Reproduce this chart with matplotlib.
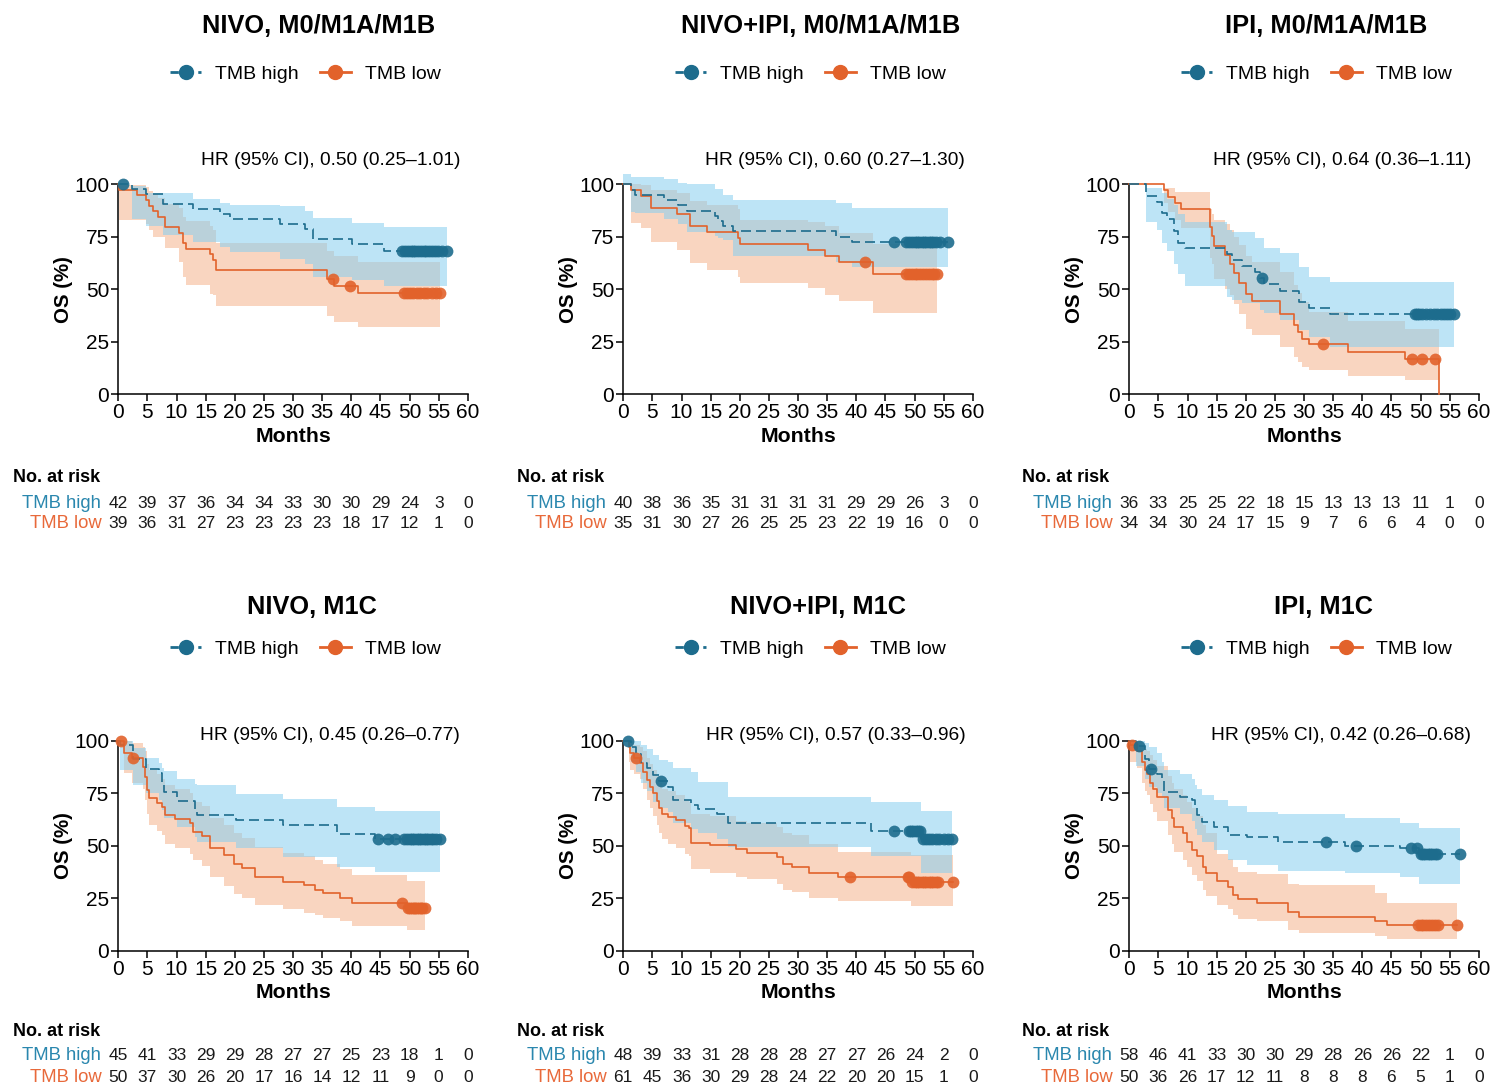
import numpy as np
import matplotlib
matplotlib.use("Agg")
import matplotlib.pyplot as plt
from matplotlib.lines import Line2D
from matplotlib.transforms import blended_transform_factory

plt.rcParams['font.family'] = ['Liberation Sans', 'DejaVu Sans']

# ---------------- data ----------------
titles = ["NIVO, M0/M1A/M1B", "NIVO+IPI, M0/M1A/M1B", "IPI, M0/M1A/M1B",
          "NIVO, M1C", "NIVO+IPI, M1C", "IPI, M1C"]
hr_text = ["HR (95% CI), 0.50 (0.25\u20131.01)", "HR (95% CI), 0.60 (0.27\u20131.30)",
           "HR (95% CI), 0.64 (0.36\u20131.11)", "HR (95% CI), 0.45 (0.26\u20130.77)",
           "HR (95% CI), 0.57 (0.33\u20130.96)", "HR (95% CI), 0.42 (0.26\u20130.68)"]
risk_months = [0, 5, 10, 15, 20, 25, 30, 35, 40, 45, 50, 55, 60]
risk_high = [[42, 39, 37, 36, 34, 34, 33, 30, 30, 29, 24, 3, 0],
             [40, 38, 36, 35, 31, 31, 31, 31, 29, 29, 26, 3, 0],
             [36, 33, 25, 25, 22, 18, 15, 13, 13, 13, 11, 1, 0],
             [45, 41, 33, 29, 29, 28, 27, 27, 25, 23, 18, 1, 0],
             [48, 39, 33, 31, 28, 28, 28, 27, 27, 26, 24, 2, 0],
             [58, 46, 41, 33, 30, 30, 29, 28, 26, 26, 22, 1, 0]]
risk_low = [[39, 36, 31, 27, 23, 23, 23, 23, 18, 17, 12, 1, 0],
            [35, 31, 30, 27, 26, 25, 25, 23, 22, 19, 16, 0, 0],
            [34, 34, 30, 24, 17, 15, 9, 7, 6, 6, 4, 0, 0],
            [50, 37, 30, 26, 20, 17, 16, 14, 12, 11, 9, 0, 0],
            [61, 45, 36, 30, 29, 28, 24, 22, 20, 20, 15, 1, 0],
            [50, 36, 26, 17, 12, 11, 8, 8, 8, 6, 5, 1, 0]]

# panel 1 - NIVO, M0/M1A/M1B
p1_high_t = [0, 2.4, 4.7, 7.7, 12.9, 17.5, 19.2, 27.8, 32.1, 33.4, 40.2, 45.6]
p1_high_s = [100, 97.6, 95.2, 90.5, 88.1, 85.7, 83.3, 81.0, 78.6, 73.8, 71.4, 68.3]
p1_high_up = [100, 99.4, 96, 96, 92.8, 90.9, 90.3, 89.7, 87.3, 83.8, 81.4, 79.8]
p1_high_lo = [100, 83.3, 80, 76, 72.5, 70, 67.6, 64.4, 62, 56, 54.4, 51.7]
p1_high_cens = [0.75, 48.7, 49.2, 49.7, 50.2, 50.6, 51.0, 51.5, 52.0, 52.4, 52.9, 53.3,
                53.8, 54.3, 54.8, 55.5, 56.4]
p1_low_t = [0, 0.2, 3.2, 4.7, 5.3, 6.0, 6.9, 8.1, 10.4, 11.1, 11.6, 15.8, 16.3, 16.8, 35.9, 37.0, 41.1]
p1_low_s = [100, 97.4, 94.9, 92.3, 89.7, 87.2, 84.6, 79.5, 76.9, 71.8, 69.2, 66.7, 64.1, 59.0, 55.0, 51.3, 48.3]
p1_low_up = [100, 99.7, 99.5, 98.5, 97, 95.5, 93.5, 90.5, 88.5, 84.5, 82.5, 80, 78, 72.2, 68, 66, 63]
p1_low_lo = [100, 83, 83, 81, 78, 75, 75, 69.5, 63, 56, 52, 47.5, 47, 42.1, 37.4, 34.5, 31.8]
p1_low_cens = [36.8, 39.7, 49.0, 49.5, 50.0, 50.6, 51.2, 51.8, 52.4, 53.0, 53.8, 54.6, 55.3]

# panel 2 - NIVO+IPI, M0/M1A/M1B
p2_high_t = [0, 1.3, 2.0, 7.0, 9.4, 11.0, 15.7, 16.3, 17.1, 18.9, 36.6, 39.3]
p2_high_s = [100, 97.5, 95.0, 92.5, 90.0, 87.5, 85.0, 82.5, 80.0, 77.5, 75.0, 72.5]
p2_high_up = [104.8, 103.7, 103.7, 102.4, 100.8, 100, 97.6, 97.6, 94.9, 92.5, 90.9, 88.6]
p2_high_lo = [100, 87, 86.5, 83.5, 81, 77.4, 75.5, 74.5, 73.5, 66, 63, 60.8]
p2_high_cens = [46.5, 48.5, 49.0, 49.5, 50.0, 50.4, 50.8, 51.2, 51.6, 52.0, 52.4, 52.8,
                53.2, 53.6, 54.3, 55.7]
p2_low_t = [0, 1.3, 3.1, 4.7, 9.3, 11.5, 14.4, 19.7, 20.0, 31.7, 34.7, 37.0, 42.9]
p2_low_s = [100, 97.1, 94.3, 88.6, 85.7, 80.0, 77.1, 74.3, 71.4, 68.6, 65.7, 62.9, 57.1]
p2_low_up = [100, 100, 99.5, 97.5, 96, 92, 90, 88, 83, 82, 80, 77, 71.5]
p2_low_lo = [100, 81.4, 79, 72.3, 68.7, 62.3, 59.1, 56, 53.1, 50.4, 47.2, 44.4, 38.8]
p2_low_cens = [41.5, 48.5, 49.0, 49.5, 50.0, 50.5, 51.0, 51.5, 52.0, 52.5, 53.0, 53.4, 53.8]

# panel 3 - IPI, M0/M1A/M1B
p3_high_t = [0, 2.8, 4.7, 5.6, 6.4, 7.6, 8.4, 9.6, 16.7, 17.6, 19.3, 21.5, 22.5, 23.1, 25.9, 29.1, 30.9, 34.5]
p3_high_s = [100, 94.4, 91.7, 86.1, 83.3, 77.8, 72.2, 69.4, 66.7, 63.9, 61.1, 58.3, 55.5, 52.6, 49.3, 44.0, 41.0, 38.2]
p3_high_up = [100, 98.4, 98, 96, 93, 90, 86, 82, 78, 77.4, 77.4, 74.2, 74.2, 69.5, 67.1, 60.7, 56, 53.3]
p3_high_lo = [100, 82, 78, 72, 68, 62, 57, 51.7, 46.4, 45, 43.2, 43.2, 40, 38.5, 35.3, 30.5, 27, 22.5]
p3_high_cens = [22.8, 49.0, 49.4, 49.8, 50.3, 51.0, 51.7, 52.3, 52.9, 53.5, 54.0, 54.5, 55.0, 55.8]
p3_low_t = [0, 6.0, 6.7, 7.9, 8.9, 13.8, 14.2, 14.6, 16.4, 17.3, 18.0, 18.8, 20.1, 21.0, 25.9, 28.2,
            28.9, 29.6, 30.8, 37.6, 47.4, 53.2]
p3_low_s = [100, 97.1, 94.1, 91.2, 88.2, 79.4, 75.5, 70.6, 66.3, 62.0, 57.6, 52.8, 47.5, 44.4, 38.2, 32.9,
            29.7, 26.2, 23.8, 19.9, 16.7, 0]
p3_low_up = [100, 98.4, 98.4, 96.2, 96.2, 88, 86, 83, 81, 78, 75, 71, 66, 63, 58, 52, 48, 44, 39, 35, 31, 31]
p3_low_lo = [100, 91, 87, 83, 79, 65, 62, 55, 50, 47, 43, 38, 31, 28, 22.3, 17.8, 15.4, 13, 11.4, 8.6, 6.7, 6.7]
p3_low_cens = [33.3, 48.5, 50.3, 52.4]

# panel 4 - NIVO, M1C
p4_high_t = [0, 0.3, 2.6, 4.8, 7.0, 7.5, 7.9, 10.0, 13.1, 13.5, 20.2, 28.3, 37.5, 44.0]
p4_high_s = [100, 97.8, 91.1, 86.7, 84.4, 79.7, 75.7, 71.3, 67.0, 64.6, 62.2, 59.8, 55.4, 53.3]
p4_high_up = [100, 100, 96.3, 91.6, 89.2, 87, 85.5, 81.7, 79.5, 78.9, 74.6, 72.2, 68.3, 66.5]
p4_high_lo = [100, 86, 79, 75, 72, 67, 63, 59, 54, 52, 48.7, 44.5, 40, 37.6]
p4_high_cens = [44.5, 46.3, 47.5, 49.0, 49.5, 50.0, 50.4, 50.8, 51.2, 51.6, 52.0, 52.4, 52.8,
                53.2, 53.6, 54.0, 54.5, 55.3]
p4_low_t = [0, 1.0, 2.3, 4.3, 4.6, 4.9, 5.2, 6.6, 7.5, 8.1, 9.7, 12.3, 12.9, 14.3, 15.8, 18.1, 19.8,
            21.2, 23.4, 28.3, 31.8, 33.7, 35.1, 38.0, 40.1, 49.6]
p4_low_s = [100, 94, 91.8, 87.6, 82.9, 76.5, 72.5, 70.5, 68.3, 64.6, 62.5, 60.6, 56.7, 54.6, 48.7, 45.6,
            41.3, 39.2, 35.2, 32.9, 31.3, 28.9, 27.3, 25.2, 22.9, 20.5]
p4_low_up = [100, 100, 99, 97, 95, 89, 86, 84, 82, 79, 77, 75, 71, 69, 63, 60, 56, 53.5, 49.5, 46.5,
             45, 43, 41.5, 39, 36, 33]
p4_low_lo = [100, 84.4, 80, 77, 72, 65, 60, 57, 55, 51, 49, 46, 43, 40.5, 35, 31, 27, 25, 22, 20,
             18, 17, 15.5, 14, 12, 10]
p4_low_cens = [0.5, 2.6, 48.7, 49.8, 50.1, 50.4, 50.7, 51.0, 51.3, 51.6, 51.9, 52.2, 52.6]

# panel 5 - NIVO+IPI, M1C
p5_high_t = [0, 1.4, 2.2, 3.1, 4.0, 5.1, 6.2, 7.7, 8.6, 11.6, 12.9, 16.0, 18.0, 42.6, 51.1]
p5_high_s = [100, 97.1, 93.5, 89.5, 86.8, 83.7, 80.8, 78.1, 71.7, 69.3, 67.3, 64.9, 61.0, 57.0, 53.0]
p5_high_up = [100, 100, 100, 98, 96, 93, 91, 90, 87, 85, 80.5, 80.5, 73, 71, 66.7]
p5_high_lo = [100, 90, 85, 80, 76, 71, 68, 66, 61, 58, 56, 53, 49.5, 45, 37]
p5_high_cens = [0.8, 6.5, 46.5, 49.0, 49.4, 49.8, 50.2, 50.6, 51.0, 51.5, 52.0, 52.5, 53.0,
                53.6, 54.2, 55.0, 55.8, 56.5]
p5_low_t = [0, 0.9, 1.1, 1.9, 2.9, 3.4, 4.0, 4.6, 5.1, 5.7, 6.2, 6.6, 7.6, 9.0, 10.6, 11.3, 11.7,
            14.9, 19.3, 21.3, 26.4, 27.4, 29.0, 31.8, 36.9, 49.4]
p5_low_s = [100, 97, 94, 91.8, 89.2, 85.2, 81.3, 78.1, 75, 71.4, 67.8, 65, 63.8, 62.2, 59.4, 58.3, 51.4,
            50.3, 48.3, 46.3, 44.8, 41.3, 40, 36.8, 35, 32.5]
p5_low_up = [100, 100, 99, 98, 97, 95, 92, 89, 86, 83, 80, 77, 76, 74, 72, 71, 65, 64, 62, 61, 59,
             56, 55, 51, 47, 45.5]
p5_low_lo = [100, 90, 86, 84, 82, 77, 72, 68, 64, 60, 56, 53, 51, 49, 46, 45, 39, 37, 35, 34, 32,
             29, 28, 25, 23.5, 21.5]
p5_low_cens = [2.1, 39.0, 48.8, 49.1, 49.6, 50.0, 50.4, 50.8, 51.2, 51.6, 52.0, 52.4, 52.8, 53.2,
               53.6, 54.0, 56.6]

# panel 6 - IPI, M1C
p6_high_t = [0, 1.1, 2.7, 3.4, 4.8, 5.6, 6.0, 8.7, 10.7, 11.2, 11.6, 12.4, 14.6, 17.0, 20.2, 25.6,
             37.0, 46.5, 49.7]
p6_high_s = [100, 97.5, 91.3, 86.5, 84.0, 82.0, 75.7, 73.3, 71.7, 67.8, 64.6, 61.1, 59.0, 55.0, 54.0,
             51.6, 50.0, 48.7, 45.9]
p6_high_up = [100, 100, 99, 97, 94, 90, 86, 84, 82, 79, 77, 74, 72, 69, 66, 64.9, 63, 61, 58.5]
p6_high_lo = [100, 88, 82, 78, 75, 73, 68, 65, 62, 58, 55, 52, 48, 43, 41, 38.1, 37, 35, 32]
p6_high_cens = [1.6, 3.7, 33.7, 38.9, 48.4, 49.4, 50.0, 50.4, 50.8, 51.2, 51.6, 52.0, 52.4, 52.8, 56.7]
p6_low_t = [0, 0.2, 1.4, 2.1, 2.7, 3.0, 3.6, 4.1, 4.7, 6.6, 7.3, 7.7, 9.3, 9.9, 10.7, 11.6, 12.6,
            13.2, 15.1, 17.0, 17.8, 18.6, 21.9, 27.2, 29.1, 42.2, 44.2]
p6_low_s = [100, 98, 95, 90, 86, 84, 80, 77, 73, 67, 63, 59, 56, 52, 48, 45, 40, 37, 33, 30.5, 26.5,
            24.4, 22.5, 18.2, 16.2, 14.1, 12.2]
p6_low_up = [100, 100, 100, 98, 96, 95, 93, 91, 88, 83, 80, 77, 74, 71, 68, 64, 60, 56, 46, 43.5, 40,
             37.5, 36.5, 32, 31.3, 27.6, 22.9]
p6_low_lo = [100, 90, 87, 80, 76, 74, 70, 66, 62, 55, 51, 47, 43, 40, 36, 33, 29, 26, 22, 20, 17, 15,
             14, 10, 8.5, 7, 5.5]
p6_low_cens = [0.5, 49.5, 50.0, 50.5, 51.0, 51.5, 52.0, 52.5, 53.0, 56.2]

high_sets = [
    (p1_high_t, p1_high_s, p1_high_lo, p1_high_up, p1_high_cens),
    (p2_high_t, p2_high_s, p2_high_lo, p2_high_up, p2_high_cens),
    (p3_high_t, p3_high_s, p3_high_lo, p3_high_up, p3_high_cens),
    (p4_high_t, p4_high_s, p4_high_lo, p4_high_up, p4_high_cens),
    (p5_high_t, p5_high_s, p5_high_lo, p5_high_up, p5_high_cens),
    (p6_high_t, p6_high_s, p6_high_lo, p6_high_up, p6_high_cens),
]
low_sets = [
    (p1_low_t, p1_low_s, p1_low_lo, p1_low_up, p1_low_cens),
    (p2_low_t, p2_low_s, p2_low_lo, p2_low_up, p2_low_cens),
    (p3_low_t, p3_low_s, p3_low_lo, p3_low_up, p3_low_cens),
    (p4_low_t, p4_low_s, p4_low_lo, p4_low_up, p4_low_cens),
    (p5_low_t, p5_low_s, p5_low_lo, p5_low_up, p5_low_cens),
    (p6_low_t, p6_low_s, p6_low_lo, p6_low_up, p6_low_cens),
]

# ---------------- style ----------------
BLUE = "#1d6c8d"
ORANGE = "#e2622b"
BLUE_BAND = "#87cef0"
ORANGE_BAND = "#f9d5c0"
BLUE_TXT = "#2a87ae"
ORANGE_TXT = "#e8693a"

W, H = 1494, 1086
fig = plt.figure(figsize=(W / 100, H / 100), dpi=100)


def fx(x):
    return x / W


def fy(y):
    return 1 - y / H


ax_left = [118.3, 623.3, 1129.3]
ax_w = 349.5
row_top = [184.3, 740.7]
row_bot = [394.0, 950.7]
title_cx = [[319, 821, 1326], [312, 818, 1323]]
title_y = [26, 607]
legend_y = [74, 649]
hr_y = [160, 736]
months_y = [437, 993]
risk_head_y = [477, 1031]
risk_hi_y = [503, 1056]
risk_lo_y = [523, 1077]
label_x0 = [13, 517, 1022]


def draw_km(ax, data, line_col, band_col, band_alpha, ls, zb):
    t, s, lo, up, cens = [np.asarray(a, float) for a in data]
    end = max(cens.max(), t.max())
    tt = np.append(t, end)
    ss = np.append(s, s[-1])
    ax.fill_between(tt, np.append(lo, lo[-1]), np.append(up, up[-1]), step='post',
                    color=band_col, alpha=band_alpha, lw=0, zorder=zb, clip_on=False)
    if ls == '--':
        ax.step(tt, ss, where='post', color=line_col, lw=1.2, dashes=(6, 3), zorder=5,
                clip_on=False)
    else:
        ax.step(tt, ss, where='post', color=line_col, lw=1.2, zorder=4, clip_on=False)
    idx = np.searchsorted(t, cens, side='right') - 1
    ax.plot(cens, s[idx], 'o', color=line_col, ms=8.5, alpha=0.9, mec='none', zorder=6,
            clip_on=False)


for k in range(6):
    r, c = divmod(k, 3)
    ax = fig.add_axes([fx(ax_left[c]), fy(row_bot[r]), ax_w / W, (row_bot[r] - row_top[r]) / H])
    draw_km(ax, low_sets[k], ORANGE, ORANGE_BAND, 1.0, '-', 1)
    draw_km(ax, high_sets[k], BLUE, BLUE_BAND, 0.55, '--', 2)

    ax.set_xlim(0, 60)
    ax.set_ylim(0, 100)
    ax.set_xticks(risk_months)
    ax.set_yticks([0, 25, 50, 75, 100])
    for sp in ['top', 'right']:
        ax.spines[sp].set_visible(False)
    for sp in ['left', 'bottom']:
        ax.spines[sp].set_linewidth(1.1)
    ax.tick_params(labelsize=15, length=5, width=1.1, pad=1.5)
    ax.set_facecolor('none')

    cx = (ax_left[c] + ax_left[c] + ax_w) / 2
    cy = (row_top[r] + row_bot[r]) / 2
    fig.text(fx(title_cx[r][c]), fy(title_y[r]), titles[k], ha='center', va='center',
             fontsize=18.3, fontweight='bold')
    fig.text(fx(ax_left[c] + 342), fy(hr_y[r]), hr_text[k], ha='right', va='center',
             fontsize=13.8)
    fig.text(fx(cx), fy(months_y[r]), "Months", ha='center', va='center', fontsize=15.3,
             fontweight='bold')
    fig.text(fx(ax_left[c] - 55), fy(cy), "OS (%)", ha='center', va='center', fontsize=14.8,
             fontweight='bold', rotation=90)

    # legend
    handles = [Line2D([0], [0], color=BLUE, ls='--', dashes=(3, 2), lw=2, marker='o', ms=10),
               Line2D([0], [0], color=ORANGE, lw=2, marker='o', ms=10)]
    fig.legend(handles, ["TMB high", "TMB low"], loc='center',
               bbox_to_anchor=(fx(ax_left[c] + 187), fy(legend_y[r])), ncol=2,
               frameon=False, fontsize=14, handlelength=1.6, handletextpad=0.7,
               columnspacing=1.1)

    # numbers at risk
    trans = blended_transform_factory(ax.transData, fig.transFigure)
    fig.text(fx(label_x0[c]), fy(risk_head_y[r]), "No. at risk", ha='left', va='center',
             fontsize=13, fontweight='bold')
    fig.text(fx(ax_left[c] - 17), fy(risk_hi_y[r]), "TMB high", ha='right', va='center',
             fontsize=13.3, color=BLUE_TXT)
    fig.text(fx(ax_left[c] - 17), fy(risk_lo_y[r]), "TMB low", ha='right', va='center',
             fontsize=13.3, color=ORANGE_TXT)
    for m, nh, nl in zip(risk_months, risk_high[k], risk_low[k]):
        ax.text(m, fy(risk_hi_y[r]), str(nh), transform=trans, ha='center', va='center',
                fontsize=12.5, color='#1a1a1a')
        ax.text(m, fy(risk_lo_y[r]), str(nl), transform=trans, ha='center', va='center',
                fontsize=12.5, color='#1a1a1a')

fig.savefig("out.png", dpi=100)
